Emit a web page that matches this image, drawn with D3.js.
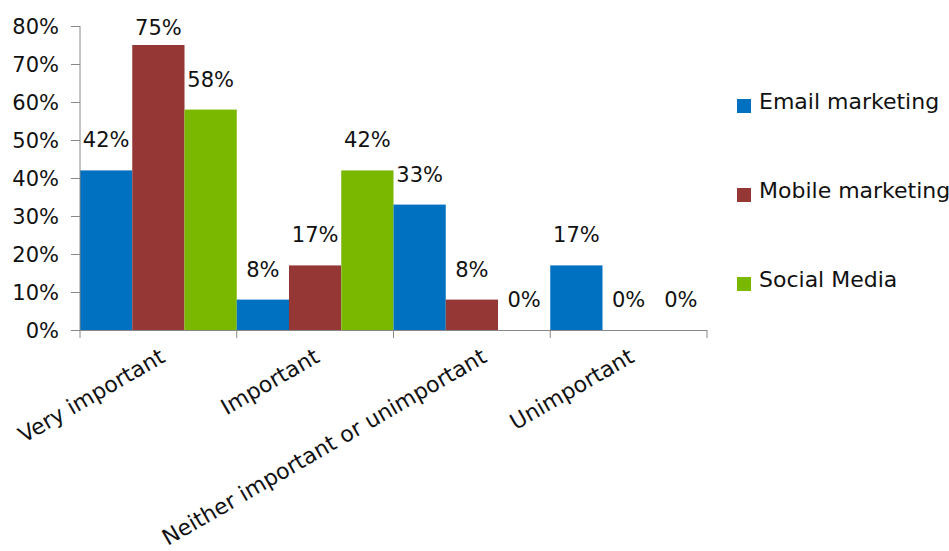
<!DOCTYPE html>
<html>
<head>
<meta charset="utf-8">
<script src="https://cdn.jsdelivr.net/npm/d3@7"></script>
<style>
  html, body { margin: 0; padding: 0; background: #fff; }
  svg text { font-family: "DejaVu Sans", sans-serif; fill: #111; }
</style>
</head>
<body>
<svg id="chart" width="949" height="551"></svg>
<script>
// Survey answers: importance rating per marketing channel
const categories = ["Very important", "Important", "Neither important or unimportant", "Unimportant"];
const seriesNames = ["Email marketing", "Mobile marketing", "Social Media"];
const emailValues = [42, 8, 33, 17];
const mobileValues = [75, 17, 8, 0];
const socialValues = [58, 42, 0, 0];
const yTicks = [0, 10, 20, 30, 40, 50, 60, 70, 80];
const seriesColors = ["#0070C0", "#953735", "#7AB800"];

const seriesValues = [emailValues, mobileValues, socialValues];

const svg = d3.select("#chart");
const numSize = 21;   // numbers: ticks and value labels
const textSize = 22;  // words: category names and legend

const x = d3.scaleBand().domain(categories).range([80, 707]).padding(0);
const xInner = d3.scaleBand().domain(seriesNames).range([0, x.bandwidth()]).padding(0);
const y = d3.scaleLinear().domain([0, 80]).range([330, 26]);

// Bars
const groups = svg.append("g").selectAll("g")
  .data(categories)
  .join("g")
  .attr("transform", d => `translate(${x(d)},0)`);

const cells = (c, i) => seriesNames.map((s, j) => ({ s, v: seriesValues[j][i], j }));

groups.selectAll("rect")
  .data(cells)
  .join("rect")
  .attr("x", d => xInner(d.s))
  .attr("y", d => y(d.v))
  .attr("width", xInner.bandwidth())
  .attr("height", d => y(0) - y(d.v))
  .attr("fill", d => seriesColors[d.j]);

// Value labels above each bar (kept inside the plot's top edge)
groups.selectAll("text.val")
  .data(cells)
  .join("text")
  .attr("class", "val")
  .attr("x", d => xInner(d.s) + xInner.bandwidth() / 2)
  .attr("y", d => Math.max(y(d.v) - 23, 35))
  .attr("text-anchor", "middle")
  .style("font-size", numSize + "px")
  .text(d => d.v + "%");

// Y axis
const yAxis = d3.axisLeft(y).tickValues(yTicks).tickSize(9).tickPadding(12).tickFormat(d => d + "%");
const yG = svg.append("g").attr("transform", "translate(80,0)").call(yAxis);
yG.select(".domain").attr("stroke", "#888").attr("d", "M0,26V330");
yG.selectAll(".tick line").attr("stroke", "#888");
yG.selectAll(".tick text").style("font-size", numSize + "px").attr("fill", "#111").attr("dy", "0.35em");

// X axis: ticks at category boundaries
const boundaries = categories.map(c => x(c)).concat([x(categories[categories.length - 1]) + x.bandwidth()]);
const xG = svg.append("g");
xG.append("line").attr("x1", 80).attr("x2", 707).attr("y1", 330.5).attr("y2", 330.5).attr("stroke", "#888");
xG.selectAll("line.tk").data(boundaries).join("line")
  .attr("class", "tk")
  .attr("x1", d => d).attr("x2", d => d)
  .attr("y1", 330).attr("y2", 338)
  .attr("stroke", "#888");

// Rotated category names, right end hanging under the category centre
xG.selectAll("text.cat").data(categories).join("text")
  .attr("class", "cat")
  .attr("text-anchor", "end")
  .style("font-size", textSize + "px")
  .text(d => d)
  .attr("transform", function (d) {
    const len = this.getComputedTextLength();
    const dx = 1.5 + 0.04 * len;
    return `translate(${x(d) + x.bandwidth() / 2 + dx},361) rotate(-30)`;
  });

// Legend
const legend = svg.append("g").selectAll("g").data(seriesNames).join("g")
  .attr("transform", (d, i) => `translate(737,${99 + i * 89})`);
legend.append("rect").attr("width", 14).attr("height", 14).attr("fill", (d, i) => seriesColors[i]);
legend.append("text").attr("x", 22).attr("y", 10).style("font-size", textSize + "px").text(d => d);
</script>
</body>
</html>
